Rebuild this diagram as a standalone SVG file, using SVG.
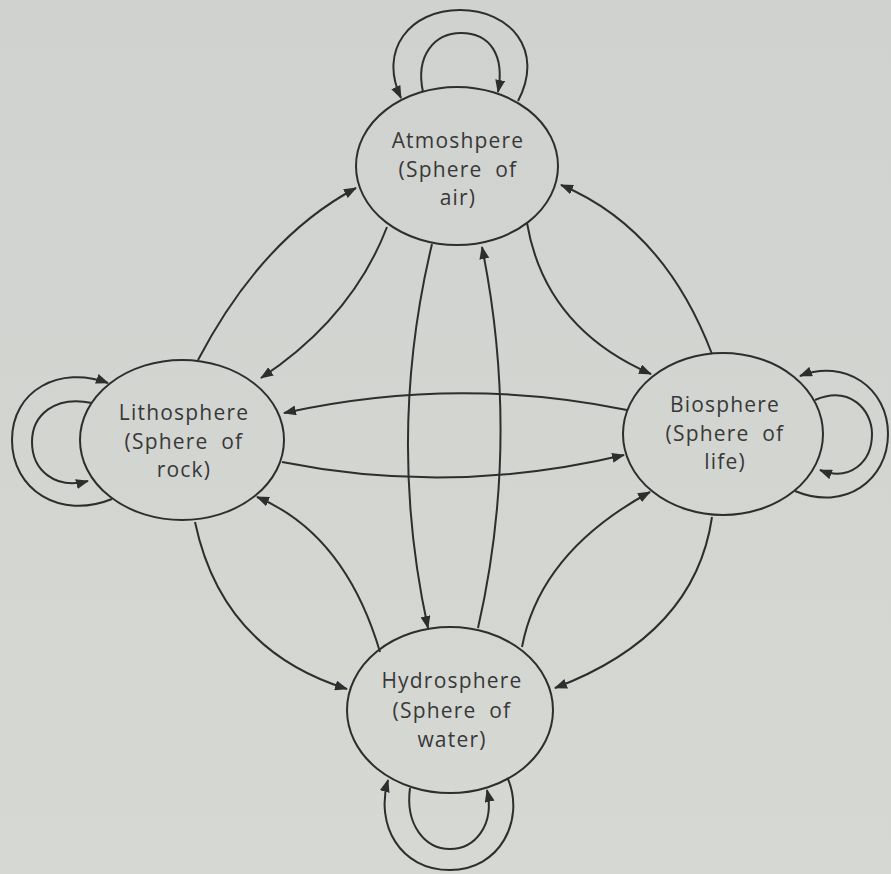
<svg xmlns="http://www.w3.org/2000/svg" width="891" height="874" viewBox="0 0 891 874">
<defs>
<marker id="ah" markerUnits="userSpaceOnUse" markerWidth="14" markerHeight="10" refX="12" refY="5" orient="auto">
<path d="M0,0 L13,5 L0,10 z" fill="#2e2e2e"/>
</marker>
<linearGradient id="bg" x1="0" y1="0" x2="0" y2="1">
<stop offset="0" stop-color="#cfd2ce"/>
<stop offset="1" stop-color="#d6d8d4"/>
</linearGradient>
</defs>
<style>
.node ellipse{fill:none;stroke:#2e2e2e;stroke-width:2}
.node text{font-family:"Open Sans","Noto Sans",sans-serif;font-size:21px;letter-spacing:1.2px;fill:#383838;text-anchor:middle;word-spacing:6px}
.c path{fill:none;stroke:#2e2e2e;stroke-width:2}
.c path.a{marker-end:url(#ah)}
</style>
<rect width="891" height="874" fill="url(#bg)"/>
<g id="connectors" class="c">
<!-- atmosphere self loops -->
<path class="a" d="M518,101 C545,50 510,10 460,10 C410,10 378,50 401,98"/>
<path class="a" d="M423,92 C415,55 435,33 461,33 C490,33 505,55 498,92"/>
<!-- lithosphere self loops -->
<path class="a" d="M112,499 C60,520 12,490 12,440 C12,390 60,365 108,383"/>
<path class="a" d="M92,403 C55,395 32,415 32,442 C32,470 55,490 88,481"/>
<!-- biosphere self loops -->
<path class="a" d="M795,491 C845,512 888,480 888,434 C888,388 845,358 800,376"/>
<path class="a" d="M815,400 C850,385 872,410 872,434 C872,462 850,482 820,470"/>
<!-- hydrosphere self loops -->
<path class="a" d="M508,779 C525,820 500,870 450,870 C400,870 375,825 388,780"/>
<path class="a" d="M410,788 C405,825 425,849 450,849 C475,849 495,825 487,790"/>
<!-- litho -> atmo -->
<path class="a" d="M198,360 Q262,238 356,188"/>
<!-- atmo -> litho -->
<path class="a" d="M387,227 Q352,318 261,378"/>
<!-- atmo -> bio -->
<path class="a" d="M527,223 Q545,328 651,374"/>
<!-- bio -> atmo -->
<path class="a" d="M712,354 Q664,228 561,185"/>
<!-- hydro -> atmo -->
<path class="a" d="M478,628 Q521,440 482,247"/>
<!-- atmo -> hydro -->
<path class="a" d="M432,244 Q386,436 428,628"/>
<!-- bio -> litho -->
<path class="a" d="M627,410 Q456,375 284,413"/>
<!-- litho -> bio -->
<path class="a" d="M282,462 Q452,496 624,455"/>
<!-- litho -> hydro -->
<path class="a" d="M195,522 Q222,650 347,689"/>
<!-- hydro -> litho -->
<path class="a" d="M380,652 Q345,534 257,497"/>
<!-- hydro -> bio -->
<path class="a" d="M522,647 Q540,552 650,492"/>
<!-- bio -> hydro -->
<path class="a" d="M712,517 Q695,635 555,688"/>
</g>
<g id="atmosphere" class="node">
<ellipse cx="457" cy="166" rx="101" ry="79"/>
<text x="458" y="148">Atmoshpere</text>
<text x="458" y="177">(Sphere of</text>
<text x="458" y="205">air)</text>
</g>
<g id="lithosphere" class="node">
<ellipse cx="182" cy="440" rx="102" ry="80"/>
<text x="184" y="420">Lithosphere</text>
<text x="184" y="449">(Sphere of</text>
<text x="184" y="477">rock)</text>
</g>
<g id="biosphere" class="node">
<ellipse cx="723" cy="434" rx="100" ry="81"/>
<text x="725" y="412">Biosphere</text>
<text x="725" y="441">(Sphere of</text>
<text x="725" y="469">life)</text>
</g>
<g id="hydrosphere" class="node">
<ellipse cx="450" cy="710" rx="103" ry="83"/>
<text x="452" y="688">Hydrosphere</text>
<text x="452" y="718">(Sphere of</text>
<text x="452" y="747">water)</text>
</g>
</svg>
